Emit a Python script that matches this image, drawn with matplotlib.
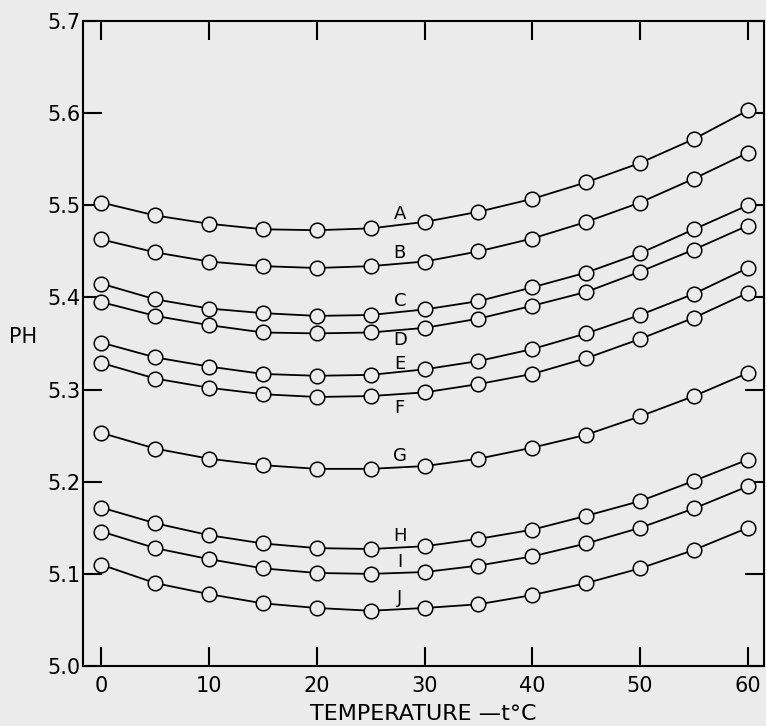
import matplotlib
matplotlib.use("Agg")
import matplotlib.pyplot as plt
import numpy as np

# temperatures (deg C)
temp = [0, 5, 10, 15, 20, 25, 30, 35, 40, 45, 50, 55, 60]

# pH readings, one curve per letter
A = [5.503, 5.489, 5.480, 5.474, 5.473, 5.475, 5.482, 5.493, 5.507, 5.525, 5.546, 5.572, 5.603]
B = [5.463, 5.449, 5.439, 5.434, 5.432, 5.434, 5.439, 5.450, 5.464, 5.482, 5.503, 5.529, 5.557]
C = [5.415, 5.398, 5.388, 5.383, 5.380, 5.381, 5.387, 5.396, 5.411, 5.427, 5.448, 5.474, 5.500]
D = [5.395, 5.380, 5.370, 5.362, 5.361, 5.362, 5.367, 5.377, 5.391, 5.406, 5.428, 5.452, 5.478]
E = [5.351, 5.335, 5.325, 5.317, 5.315, 5.316, 5.322, 5.331, 5.344, 5.361, 5.381, 5.404, 5.432]
F = [5.329, 5.312, 5.302, 5.295, 5.292, 5.293, 5.297, 5.306, 5.317, 5.334, 5.355, 5.378, 5.405]
G = [5.253, 5.236, 5.225, 5.218, 5.214, 5.214, 5.217, 5.225, 5.237, 5.251, 5.271, 5.293, 5.318]
H = [5.172, 5.155, 5.142, 5.133, 5.128, 5.127, 5.130, 5.138, 5.148, 5.163, 5.179, 5.201, 5.224]
I = [5.146, 5.128, 5.116, 5.106, 5.101, 5.100, 5.102, 5.109, 5.119, 5.133, 5.150, 5.171, 5.195]
J = [5.110, 5.090, 5.078, 5.068, 5.063, 5.060, 5.063, 5.067, 5.077, 5.090, 5.106, 5.126, 5.150]

names = ["A", "B", "C", "D", "E", "F", "G", "H", "I", "J"]
curves = [A, B, C, D, E, F, G, H, I, J]

bg = "#ebebeb"
plt.rcParams["font.family"] = ["DejaVu Sans"]

fig = plt.figure(figsize=(7.66, 7.26), dpi=100, facecolor=bg)
ax = fig.add_axes([0.1084, 0.0826, 0.889, 0.8884], facecolor=bg)

for name, y in zip(names, curves):
    ax.plot(temp, y, color="black", lw=1.3, marker="o", ms=10.5,
            mfc=bg, mec="black", mew=1.1, zorder=3)
    # letter sits just above the curve (D and F sit below)
    yl = np.interp(27.7, temp, y)
    if name == "D":
        off = -0.011
    elif name == "E":
        off = 0.009
    elif name == "F":
        off = -0.015
    else:
        off = 0.012
    ax.text(27.7, yl + off, name, fontsize=13, ha="center", va="center")

ax.set_xlim(-1.7, 61.5)
ax.set_ylim(5.0, 5.7)
ax.set_xticks(np.arange(0, 61, 10))
ax.set_yticks(np.round(np.arange(5.0, 5.71, 0.1), 1))
ax.set_yticklabels(["5.0", "5.1", "5.2", "5.3", "5.4", "5.5", "5.6", "5.7"])
ax.tick_params(direction="in", length=14, width=1.5, labelsize=15,
               top=True, right=True)
ax.tick_params(axis="y", pad=2)
ax.tick_params(axis="x", pad=7)
for s in ax.spines.values():
    s.set_linewidth(1.5)

ax.set_xlabel("TEMPERATURE —t°C", fontsize=16, labelpad=6)
ax.set_ylabel("PH", fontsize=15, rotation=0)
ax.yaxis.set_label_coords(-0.088, 0.495)

fig.savefig("out.png", dpi=100, facecolor=bg)
